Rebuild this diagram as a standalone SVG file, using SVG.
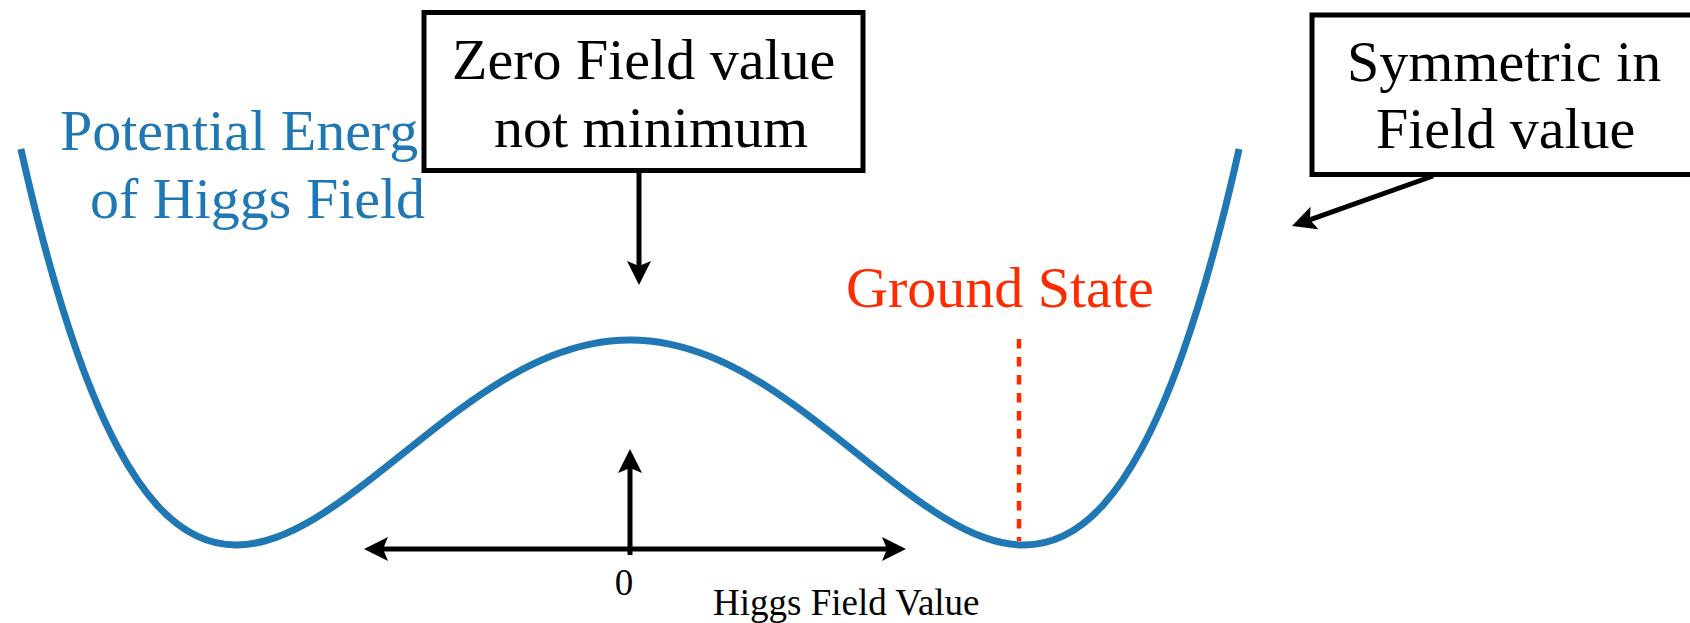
<svg xmlns="http://www.w3.org/2000/svg" width="1690" height="623" viewBox="0 0 1690 623">
  <style>
    .txt { font-family: "Liberation Serif", "Times New Roman", serif; font-size: 58px; fill: #000; }
    .blue { fill: #1f77b4; }
    .red { fill: #ff2b00; }
    .small { font-size: 37px; }
    .box { fill: #fff; stroke: #000; stroke-width: 5; }
    .arrow { fill: none; stroke: #000; stroke-width: 5; }
    .curve { fill: none; stroke: #1f77b4; stroke-width: 7; stroke-linejoin: round; }
    .dash { fill: none; stroke: #ff2b00; stroke-width: 4.5; stroke-dasharray: 9.5 8.5; }
  </style>
  <defs>
    <marker id="head" markerUnits="userSpaceOnUse" viewBox="0 0 24 24" markerWidth="24" markerHeight="24" refX="12" refY="12" orient="auto-start-reverse">
      <path d="M24,12 L0,0 L5,12 L0,24 Z" fill="#000"/>
    </marker>
  </defs>
  <rect width="1690" height="623" fill="#fff"/>

  <g id="curve">
    <path class="curve" d="M20.9,148.9 C26.94,175.92 32.96,201.12 39,224.69 C52.13,275.94 65.27,319.33 78.4,356.07 C91.53,392.81 104.67,422.88 117.8,447.40 C130.93,471.92 144.07,490.88 157.2,505.31 C170.33,519.74 183.47,529.65 196.6,535.96 C209.73,542.27 222.87,545 236,545 C249.13,545 262.27,542.27 275.4,537.60 C288.53,532.93 301.67,526.30 314.8,518.43 C327.93,510.56 341.07,501.44 354.2,491.68 C367.33,481.92 380.47,471.53 393.6,461.03 C406.73,450.53 419.87,439.94 433,429.69 C446.13,419.44 459.27,409.53 472.4,400.35 C485.53,391.17 498.67,382.70 511.8,375.24 C524.93,367.78 538.07,361.32 551.2,356.07 C564.33,350.82 577.47,346.79 590.6,344.08 C603.730,341.37 616.87,340 630,340 C643.13,340 656.27,341.37 669.4,344.08 C682.53,346.79 695.67,350.82 708.8,356.07 C721.93,361.32 735.07,367.78 748.2,375.24 C761.33,382.70 774.47,391.17 787.6,400.35 C800.73,409.53 813.87,419.44 827,429.69 C840.13,439.94 853.27,450.53 866.4,461.03 C879.53,471.53 892.67,481.92 905.8,491.68 C918.93,501.44 932.07,510.56 945.2,518.43 C958.33,526.30 971.47,532.93 984.6,537.60 C997.73,542.27 1010.87,545 1024,545 C1037.13,545 1050.27,542.27 1063.4,535.96 C1076.53,529.65 1089.67,519.74 1102.8,505.31 C1115.93,490.88 1129.07,471.92 1142.2,447.40 C1155.33,422.88 1168.47,392.81 1181.6,356.07 C1194.73,319.33 1207.87,275.94 1221,224.69 C1227.04,201.12 1233.06,175.92 1239.1,148.9"/>
  </g>

  <g id="y-label">
    <text class="txt blue" x="60" y="150">Potential Energ</text>
    <text class="txt blue" x="90" y="218">of Higgs Field</text>
  </g>

  <g id="zero-box">
    <rect class="box" x="424" y="12.5" width="439" height="158"/>
    <text class="txt" x="452" y="79">Zero Field value</text>
    <text class="txt" x="494" y="147">not minimum</text>
  </g>

  <g id="sym-box">
    <rect class="box" x="1312" y="15" width="400" height="159.5"/>
    <text class="txt" x="1347" y="81">Symmetric in</text>
    <text class="txt" x="1376" y="148">Field value</text>
  </g>

  <g id="ground-state">
    <text class="txt red" x="846" y="307">Ground State</text>
    <line class="dash" x1="1019" y1="339" x2="1019" y2="541"/>
  </g>

  <g id="axis-labels">
    <text class="txt small" x="624" y="595" text-anchor="middle">0</text>
    <text class="txt small" x="713" y="615">Higgs Field Value</text>
  </g>

  <g id="connectors">
    <line class="arrow" x1="639" y1="172" x2="639" y2="273" marker-end="url(#head)"/>
    <line class="arrow" x1="1433" y1="176" x2="1303.3" y2="222.1" marker-end="url(#head)"/>
    <line class="arrow" x1="376" y1="549" x2="894" y2="549" marker-start="url(#head)" marker-end="url(#head)"/>
    <line class="arrow" x1="630" y1="555" x2="630" y2="461" marker-end="url(#head)"/>
  </g>
</svg>
